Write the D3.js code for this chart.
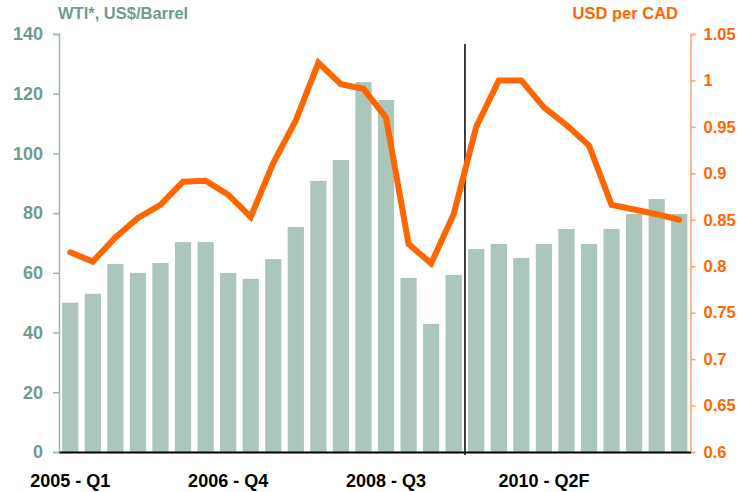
<!DOCTYPE html>
<html><head><meta charset="utf-8">
<script src="https://cdn.jsdelivr.net/npm/d3@7"></script>
<style>body{margin:0;background:#fff}svg{display:block}text{font-family:"Liberation Sans",Arial,sans-serif;font-weight:bold}</style>
</head><body><svg id="c" width="740" height="492"></svg>
<script>
const quarters = [];
for (let y = 2005; y <= 2011; y++) for (let q = 1; q <= 4; q++) quarters.push(y + " - Q" + q);
const tickLabels = {"2005 - Q1":"2005 - Q1","2006 - Q4":"2006 - Q4","2008 - Q3":"2008 - Q3","2010 - Q2":"2010 - Q2F"};
const wti = [50,53,63,60,63.3,70.3,70.3,60,58,64.6,75.4,90.8,97.8,123.9,117.9,58.3,42.9,59.3,68,69.7,65,69.7,74.7,69.7,74.7,79.7,84.7,79.7];
const usdcad = [0.815,0.805,0.831,0.852,0.866,0.891,0.892,0.877,0.853,0.911,0.957,1.019,0.996,0.991,0.960,0.824,0.803,0.856,0.950,1.0,1.0,0.971,0.952,0.930,0.866,0.861,0.856,0.850];
const leftTicks = [0,20,40,60,80,100,120,140];
const rightTicks = [0.6,0.65,0.7,0.75,0.8,0.85,0.9,0.95,1,1.05];
const forecastStart = "2009 - Q3";

const svg = d3.select("#c");
const L = 59, R = 690.5, T = 34, B = 452;
const x = d3.scaleBand().domain(quarters).range([L, R]).paddingInner(0.28).paddingOuter(0.14);
const yL = d3.scaleLinear().domain([0,140]).range([B,T]);
const yR = d3.scaleLinear().domain([0.6,1.05]).range([B,T]);
const green = "#6f9c8c", orange = "#ff6600";

svg.append("g").selectAll("rect").data(wti).join("rect")
  .attr("x",(d,i)=>x(quarters[i])).attr("width",x.bandwidth())
  .attr("y",d=>yL(d)).attr("height",d=>B-yL(d)).attr("fill","#adc6bc");

const gl = svg.append("g").attr("transform",`translate(${L},0)`)
  .call(d3.axisLeft(yL).tickValues(leftTicks).tickSize(6).tickPadding(10).tickFormat(d3.format("d")));
gl.select(".domain").attr("stroke","#9db8ad").attr("stroke-width",1.5);
gl.selectAll(".tick line").attr("stroke","#9db8ad").attr("stroke-width",1.5);
gl.selectAll("text").attr("fill",green).style("font-size","18px");

const gr = svg.append("g").attr("transform",`translate(${R},0)`)
  .call(d3.axisRight(yR).tickValues(rightTicks).tickSize(5).tickPadding(8).tickFormat(d=>d3.format("")(+d.toFixed(2))));
gr.select(".domain").attr("stroke","#ffa366").attr("stroke-width",1.5);
gr.selectAll(".tick line").attr("stroke","#ffa366").attr("stroke-width",1.5);
gr.selectAll("text").attr("fill",orange).style("font-size","16.5px");

const gb = svg.append("g").attr("transform",`translate(0,${B})`)
  .call(d3.axisBottom(x).tickValues(Object.keys(tickLabels)).tickSize(0).tickPadding(22).tickFormat(d=>tickLabels[d]));
gb.select(".domain").attr("stroke","#000").attr("stroke-width",2);
gb.selectAll("text").attr("fill","#000").style("font-size","18px");

const vx = x(forecastStart) - x.step()*x.paddingInner()/2;
svg.append("line").attr("x1",vx).attr("x2",vx).attr("y1",44).attr("y2",455).attr("stroke","#000").attr("stroke-width",1.5);

svg.append("path").datum(usdcad)
  .attr("d",d3.line().x((d,i)=>x(quarters[i])+x.bandwidth()/2).y(d=>yR(d)))
  .attr("fill","none").attr("stroke",orange).attr("stroke-width",6).attr("stroke-linejoin","miter").attr("stroke-linecap","round");

svg.append("text").attr("x",58).attr("y",19).attr("fill",green).style("font-size","16.5px").text("WTI*, US$/Barrel");
svg.append("text").attr("x",678).attr("y",19).attr("text-anchor","end").attr("fill",orange).style("font-size","16.5px").text("USD per CAD");
</script></body></html>
